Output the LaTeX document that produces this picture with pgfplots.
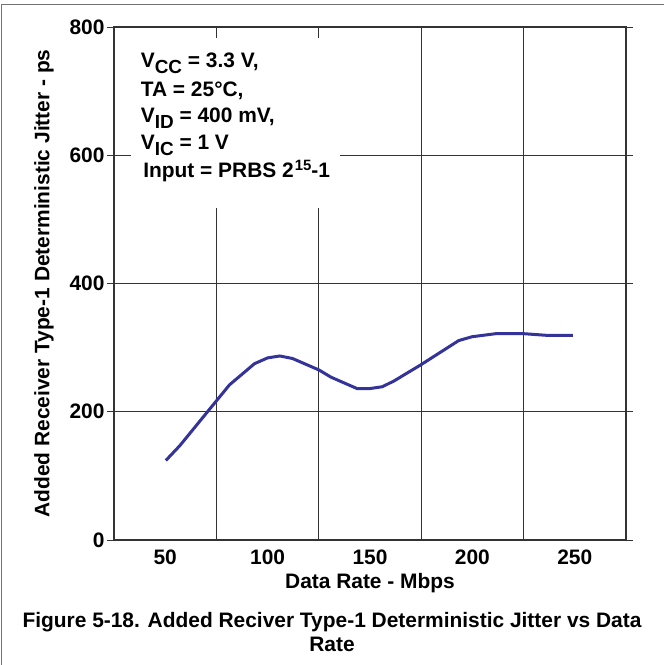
\documentclass[border=0pt]{standalone}
\usepackage{fontspec}
\setmainfont{Liberation Sans}
\usepackage{pgfplots}
\pgfplotsset{compat=1.18}

\definecolor{curve}{RGB}{51,51,153}
\definecolor{frame}{RGB}{51,51,51}
\newcommand{\sub}[1]{\raisebox{-6bp}{\fontsize{19}{19}\selectfont #1}}
\newcommand{\sups}[1]{\hspace{1bp}\raisebox{7bp}{\fontsize{15}{15}\selectfont #1}}
\tikzset{textline/.style={anchor=base west, inner sep=0pt,
    font=\fontsize{21}{21}\selectfont\bfseries}}

\begin{document}
\begin{tikzpicture}[x=1bp,y=1bp]
\useasboundingbox (0,0) rectangle (664,-665);
\draw[black!55,line width=1bp] (1,-665) -- (1,-5) -- (664,-5);
\begin{axis}[
  at={(114bp,-540bp)}, anchor=south west,
  scale only axis, width=512bp, height=513bp,
  xmin=25, xmax=275, ymin=0, ymax=800,
  xtick={50,100,150,200,250},
  ytick={0,200,400,600,800},
  extra x ticks={75,125,175,225},
  extra x tick labels={},
  extra x tick style={grid=major, major tick length=0pt},
  ymajorgrids,
  grid style={black!80, line width=0.8bp},
  axis line style={frame, line width=2.2bp},
  xtick style={draw=none},
  ytick style={frame, line width=1bp},
  tick align=outside, major tick length=7bp,
  /pgf/number format/assume math mode=true,
  ticklabel style={font=\fontsize{21}{21}\selectfont\bfseries},
  xticklabel style={yshift=1bp},
  yticklabel style={xshift=1bp},
  xlabel={Data Rate - Mbps},
  ylabel={Added Receiver Type-1 Deterministic Jitter - ps},
  xlabel style={font=\fontsize{21}{21}\selectfont\bfseries,
    at={(rel axis cs:0.5,0)}, anchor=north, yshift=-30bp},
  ylabel style={font=\fontsize{21}{21}\selectfont\bfseries,
    at={(rel axis cs:0,0.5)}, anchor=center, yshift=70bp},
]
\addplot[curve, line width=3bp, line join=round] coordinates {
  (50.3,124) (57.1,147) (75,217) (81.4,242) (93.6,275) (100,284)
  (106,287) (112.2,283) (125.2,265) (130.9,254) (143.8,236) (149.5,236)
  (156,239) (161.7,248) (174.7,273) (193.3,311) (199.8,317) (212,322)
  (224,322) (237,319) (249,319)
};
% white box behind the conditions text
\fill[white] (axis cs:33.5,783) rectangle (axis cs:135.4,518);
\node[textline] at (axis cs:38,737) {V\sub{CC} = 3.3 V,};
\node[textline] at (axis cs:38,692) {TA = 25°C,};
\node[textline] at (axis cs:38,651) {V\sub{ID} = 400 mV,};
\node[textline] at (axis cs:38,609) {V\sub{IC} = 1 V};
\node[textline] at (axis cs:39.2,566) {Input = PRBS 2\sups{15}-1};
\end{axis}
\node[align=center, font=\fontsize{21}{24}\selectfont\bfseries] at (332,-632)
  {Figure 5-18. Added Reciver Type-1 Deterministic Jitter vs Data\\Rate};
\end{tikzpicture}
\end{document}
